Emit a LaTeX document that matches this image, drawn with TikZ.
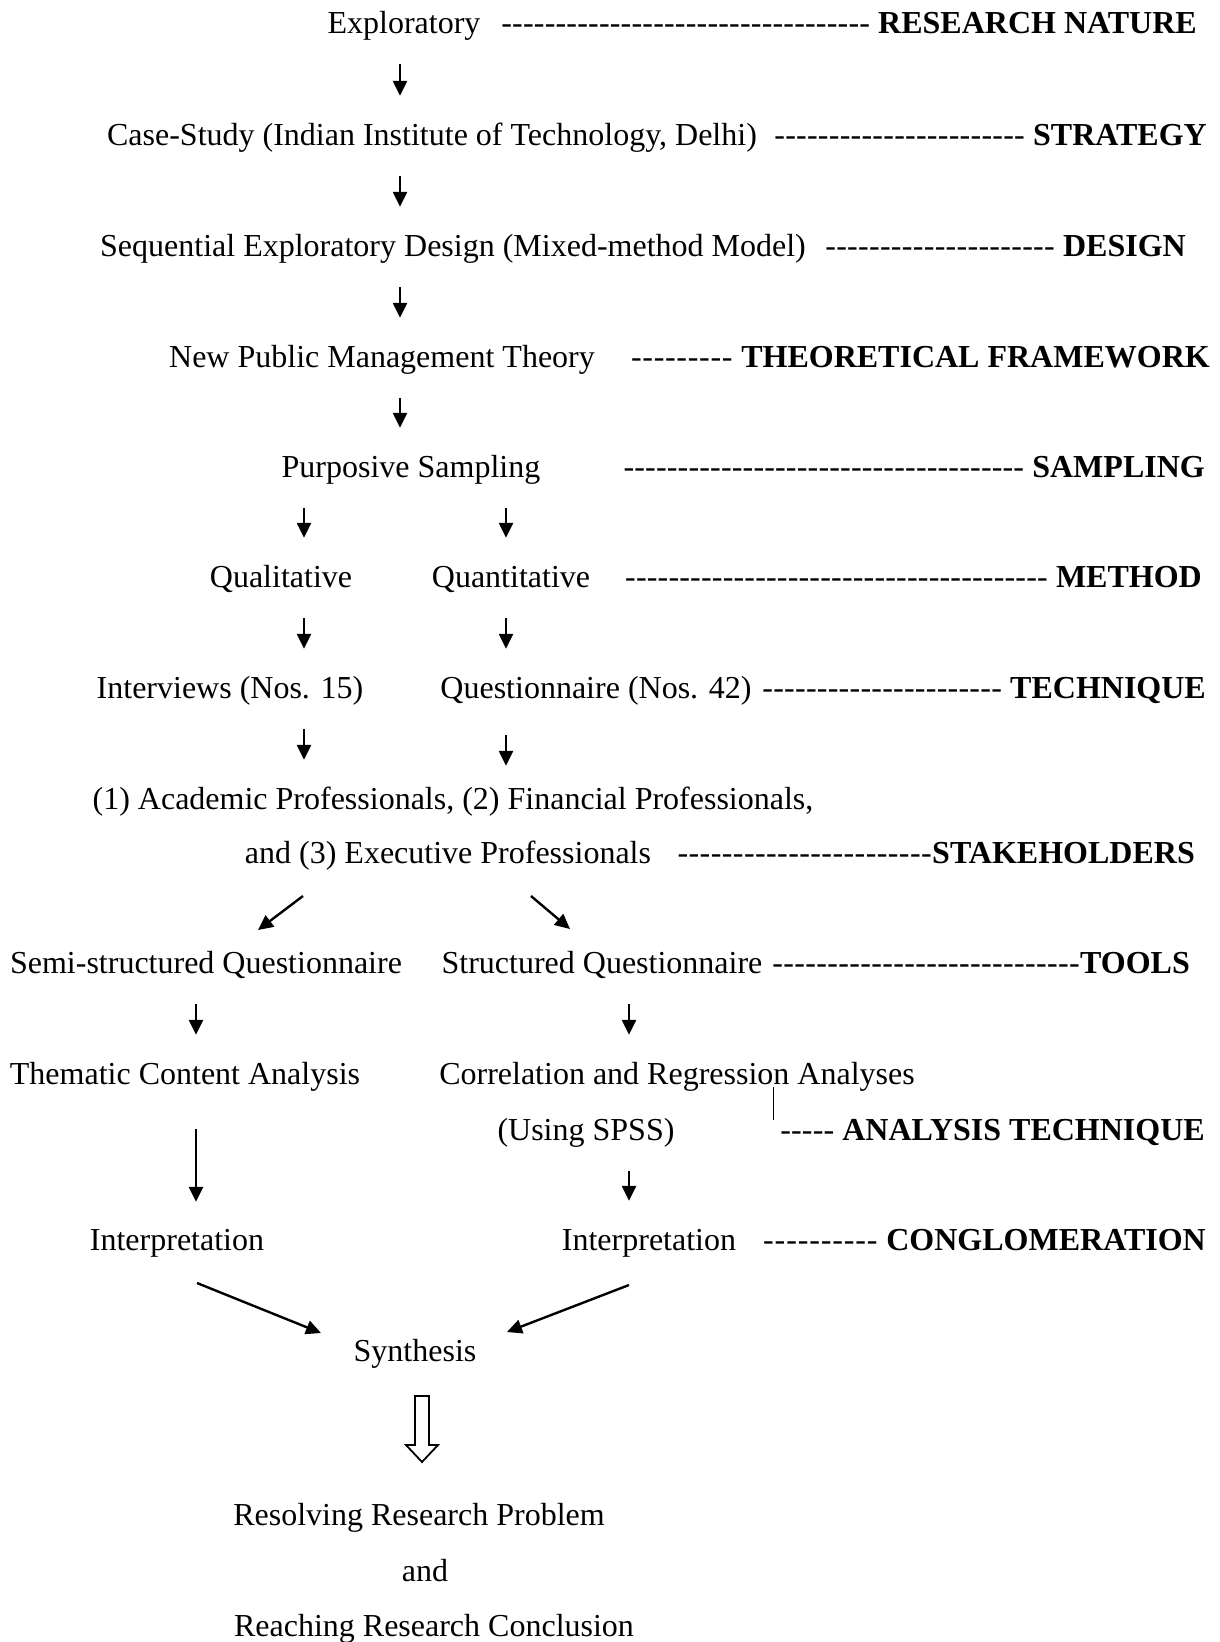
\documentclass[tikz,border=0pt]{standalone}
\usepackage{fontspec}
\setmainfont{Liberation Serif}
\usetikzlibrary{positioning,calc,arrows.meta}

\newcommand{\flowfont}{\fontsize{32}{36}\selectfont}
\newcommand{\dashrun}[1]{\hbox to #1pt{\xleaders\hbox{-}\hfill}}

\begin{document}
\begin{tikzpicture}[
    x=1pt, y=-1pt,
    stage/.style={anchor=base, inner sep=0pt, text height=21pt, text depth=7pt, font=\flowfont},
    facet/.style={anchor=base east, inner sep=0pt, font=\flowfont},
    flow/.style={-{Triangle[length=15pt, width=14pt]}, line width=2.4pt, shorten <=24pt, shorten >=28pt}
]
\useasboundingbox (0,0) rectangle (1220,1642);

% Arrow columns
\coordinate (spine) at (400,0);
\coordinate (colL) at (304,0);
\coordinate (colR) at (506,0);
\coordinate (colA) at (196,0);
\coordinate (colB) at (629,0);

% Main chain
\node[stage] (expl) at (404,33) {Exploratory};
\node[stage] (case) at (432,145) {Case-Study (Indian Institute of Technology, Delhi)};
\node[stage] (seq) at (453,256) {Sequential Exploratory Design (Mixed-method Model)};
\node[stage] (npm) at (382,367) {New Public Management Theory};
\node[stage] (purp) at (411,477) {Purposive Sampling};
\node[stage] (qual) at (281,587) {Qualitative};
\node[stage] (quant) at (511,587) {Quantitative};
\node[stage] (interv) at (230,698) {Interviews (Nos. 15)};
\node[stage] (quest) at (596,698) {Questionnaire (Nos. 42)};
\node[stage] (acad) at (453,809) {(1) Academic Professionals, (2) Financial Professionals,};
\node[stage] (exec) at (448,863) {and (3) Executive Professionals};
\node[stage] (semi) at (206,973) {Semi-structured Questionnaire};
\node[stage] (struct) at (602,973) {Structured Questionnaire};
\node[stage] (them) at (185,1084) {Thematic Content Analysis};
\node[stage] (corr) at (677,1084) {Correlation and Regression Analyses};
\node[stage] (spss) at (586,1140) {(Using SPSS)};
\node[stage] (interpL) at (177,1250) {Interpretation};
\node[stage] (interpR) at (649,1250) {Interpretation};
\node[stage] (synth) at (415,1361) {Synthesis};
\node[stage] (resolve) at (419,1525) {Resolving Research Problem};
\node[stage] (andR) at (425,1581) {and};
\node[stage] (reach) at (434,1636) {Reaching Research Conclusion};

% Labels on the right
\node[facet] (natureLbl) at (1197,33) {\dashrun{369}\ \textbf{RESEARCH NATURE}};
\node[facet] (strategyLbl) at (1207,145) {\dashrun{251}\ \textbf{STRATEGY}};
\node[facet] (designLbl) at (1186,256) {\dashrun{230}\ \textbf{DESIGN}};
\node[facet] (frameLbl) at (1210,367) {\dashrun{103}\ \textbf{THEORETICAL FRAMEWORK}};
\node[facet] (samplingLbl) at (1205,477) {\dashrun{401}\ \textbf{SAMPLING}};
\node[facet] (methodLbl) at (1202,587) {\dashrun{423}\ \textbf{METHOD}};
\node[facet] (techLbl) at (1206,698) {\dashrun{240}\ \textbf{TECHNIQUE}};
\node[facet] (stakeLbl) at (1195,863) {\dashrun{255}\textbf{STAKEHOLDERS}};
\node[facet] (toolsLbl) at (1190,973) {\dashrun{308}\textbf{TOOLS}};
\node[facet] (analysisLbl) at (1205,1140) {\dashrun{54}\ \textbf{ANALYSIS TECHNIQUE}};
\node[facet] (conglLbl) at (1206,1250) {\dashrun{116}\ \textbf{CONGLOMERATION}};

% Bar from analyses to its label
\coordinate (barTop) at (773,1087);
\draw[line width=1pt] (barTop) -- ++(0,33);

% Vertical arrows
\draw[flow] (expl.south -| spine) -- (case.north -| spine);
\draw[flow] (case.south -| spine) -- (seq.north -| spine);
\draw[flow] (seq.south -| spine) -- (npm.north -| spine);
\draw[flow] (npm.south -| spine) -- (purp.north -| spine);
\draw[flow] (purp.south -| colL) -- (qual.north -| colL);
\draw[flow] (purp.south -| colR) -- (quant.north -| colR);
\draw[flow] (qual.south -| colL) -- (interv.north -| colL);
\draw[flow] (quant.south -| colR) -- (quest.north -| colR);
\draw[flow] (interv.south -| colL) -- (acad.north -| colL);
\draw[flow, shorten <=30pt, shorten >=22pt] (quest.south -| colR) -- (acad.north -| colR);
\draw[flow] (semi.south -| colA) -- (them.north -| colA);
\draw[flow] (struct.south -| colB) -- (corr.north -| colB);
\draw[flow, shorten <=38pt, shorten >=27pt] (them.south -| colA) -- (interpL.north -| colA);
\draw[flow] (spss.south -| colB) -- (interpR.north -| colB);

% Diagonal arrows
\coordinate (splitL) at (303,896);
\coordinate (semiIn) at (258,930);
\coordinate (splitR) at (531,896);
\coordinate (structIn) at (570,929);
\coordinate (leftOut) at (197,1283);
\coordinate (synthInL) at (321,1333);
\coordinate (rightOut) at (629,1285);
\coordinate (synthInR) at (507,1332);
\draw[flow, shorten <=0pt, shorten >=0pt] (splitL) -- (semiIn);
\draw[flow, shorten <=0pt, shorten >=0pt] (splitR) -- (structIn);
\draw[flow, shorten <=0pt, shorten >=0pt] (leftOut) -- (synthInL);
\draw[flow, shorten <=0pt, shorten >=0pt] (rightOut) -- (synthInR);

% Hollow arrow to the conclusion
\draw[line width=1.8pt, line join=miter] (415,1396) -- (429,1396) -- (429,1445) -- (438,1445)
    -- (422,1462) -- (406,1445) -- (415,1445) -- cycle;

\end{tikzpicture}
\end{document}
